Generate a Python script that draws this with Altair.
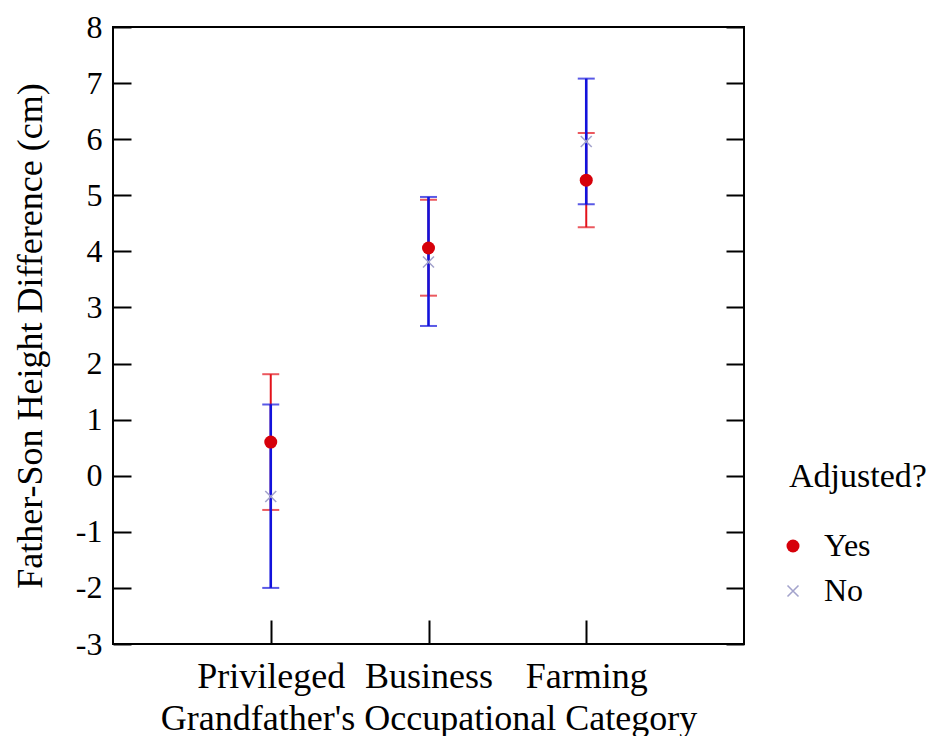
import altair as alt
import pandas as pd

# ---- data ----
categories = ["Privileged", "Business", "Farming"]
groups = ["Yes", "No"]
yes_mean = [0.60, 4.06, 5.27]
yes_lo = [-0.61, 3.21, 4.43]
yes_hi = [1.81, 4.92, 6.11]
no_mean = [-0.37, 3.81, 5.96]
no_lo = [-2.00, 2.67, 4.84]
no_hi = [1.27, 4.97, 7.08]
y_ticks = [-3, -2, -1, 0, 1, 2, 3, 4, 5, 6, 7, 8]

rows = []
for i, c in enumerate(categories):
    rows.append(dict(cat=c, grp="Yes", mean=yes_mean[i], lo=yes_lo[i], hi=yes_hi[i]))
    rows.append(dict(cat=c, grp="No", mean=no_mean[i], lo=no_lo[i], hi=no_hi[i]))
df = pd.DataFrame(rows)

FONT = "Liberation Serif"
RED_BAR = "#E3121B"
BLUE_BAR = "#1212DC"
RED_PT = "#D6000A"
X_COL = "#A3A3CC"
XPATH = ("M-0.9,-1.1L1.1,0.9L0.9,1.1L-1.1,-0.9Z "
         "M-1.1,0.9L0.9,-1.1L1.1,-0.9L-0.9,1.1Z")

yscale = alt.Scale(domain=[-3, 8], nice=False, zero=False)
yaxis = alt.Axis(title="Father-Son Height Difference (cm)", values=y_ticks,
                 domain=False, grid=False, tickSize={"expr": "-18"},
                 labelFontSize=32, labelPadding=29, titleFontSize=36,
                 titlePadding=26, labelExpr="'' + datum.value")
xenc = alt.X("cat:N", sort=categories,
             scale=alt.Scale(type="point", padding=1),
             axis=alt.Axis(title="Grandfather's Occupational Category",
                           labelAngle=0, domain=False, grid=False,
                           tickSize={"expr": "-24"}, labelFontSize=36,
                           labelPadding=39, titleFontSize=36, titlePadding=7))

base = alt.Chart(df)


def bar_layers(group, color, width):
    sub = base.transform_filter(alt.datum.grp == group)
    rule = sub.mark_rule(color=color, strokeWidth=width).encode(
        x=xenc,
        y=alt.Y("lo:Q", scale=yscale, axis=yaxis),
        y2="hi:Q",
    )
    caps = sub.transform_fold(["lo", "hi"], as_=["end", "val"]).mark_tick(
        color=color, size=17, thickness=2
    ).encode(
        x=xenc,
        y=alt.Y("val:Q", scale=yscale, axis=yaxis),
    )
    return [rule, caps]


points = base.mark_point(filled=True, opacity=1, strokeWidth=0).encode(
    x=xenc,
    y=alt.Y("mean:Q", scale=yscale, axis=yaxis),
    color=alt.Color("grp:N", scale=alt.Scale(domain=groups, range=[RED_PT, X_COL]),
                    title="Adjusted?",
                    legend=alt.Legend(orient="none", legendX=676, legendY=433,
                                      titleFontSize=34, labelFontSize=32,
                                      symbolSize=300, titlePadding=36,
                                      rowPadding=13, labelOffset=15,
                                      symbolOffset=-12)),
    shape=alt.Shape("grp:N", scale=alt.Scale(domain=groups, range=["circle", XPATH]),
                    title="Adjusted?"),
    size=alt.Size("grp:N", scale=alt.Scale(domain=groups, range=[169, 121]), legend=None),
)

main = alt.layer(*bar_layers("Yes", RED_BAR, 2), *bar_layers("No", BLUE_BAR, 2.6), points)

right = base.mark_point(opacity=0).encode(
    x=xenc,
    y=alt.Y("mean:Q", scale=yscale,
            axis=alt.Axis(orient="right", values=y_ticks, labels=False, title=None,
                          domain=False, grid=False, tickSize={"expr": "-18"})),
)

chart = alt.layer(main, right).resolve_scale(y="independent").properties(
    width=631, height=617,
    padding={"left": 4, "top": 3, "right": 0, "bottom": 0},
).configure_view(
    stroke="black", strokeWidth=2
).configure_axis(
    labelFont=FONT, titleFont=FONT, labelColor="black", titleColor="black",
    tickColor="black", tickWidth=2, titleFontWeight="normal",
).configure_legend(
    titleFont=FONT, labelFont=FONT, titleColor="black", labelColor="black",
    titleFontWeight="normal",
)

chart.save("out.html", embed_options={"renderer": "svg", "actions": False})
